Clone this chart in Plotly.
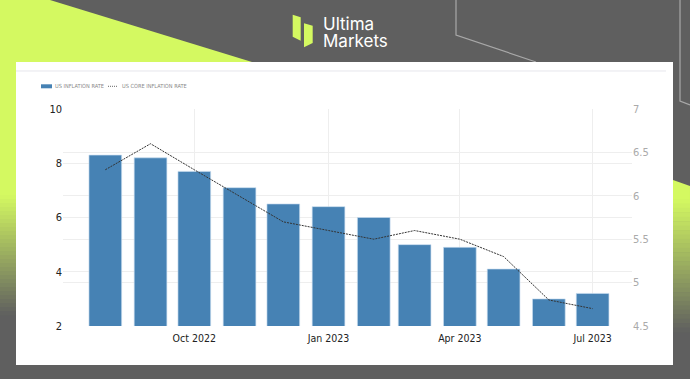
import plotly.graph_objects as go

# ---------------- data ----------------
months = ["2022-08-01", "2022-09-01", "2022-10-01", "2022-11-01", "2022-12-01", "2023-01-01",
          "2023-02-01", "2023-03-01", "2023-04-01", "2023-05-01", "2023-06-01", "2023-07-01"]
inflation = [8.3, 8.2, 7.7, 7.1, 6.5, 6.4, 6.0, 5.0, 4.9, 4.1, 3.0, 3.2]
core_inflation = [6.3, 6.6, 6.3, 6.0, 5.7, 5.6, 5.5, 5.6, 5.5, 5.3, 4.8, 4.7]
left_ticks = [2, 4, 6, 8, 10]
right_ticks = [4.5, 5, 5.5, 6, 6.5, 7]
x_tick_dates = ["2022-10-01", "2023-01-01", "2023-04-01", "2023-07-01"]
x_tick_labels = ["Oct 2022", "Jan 2023", "Apr 2023", "Jul 2023"]
series_names = ["US INFLATION RATE", "US CORE INFLATION RATE"]

# ---------------- geometry / style ----------------
W, H = 690, 379
L, R, T, B = 63, 632, 109, 326
GRAY = "#5f5f5f"
LIME = "#d4f961"
BLUE = "#4682b4"
DAY_MS = 86400000


def fx(x):
    return (x - L) / (R - L)


def fy(y):
    return (B - y) / (B - T)


def poly(pts):
    return "M " + " L ".join(f"{fx(x):.5f},{fy(y):.5f}" for x, y in pts) + " Z"


def mix(c1, c2, t):
    a = [int(c1[i:i + 2], 16) for i in (1, 3, 5)]
    b = [int(c2[i:i + 2], 16) for i in (1, 3, 5)]
    return "rgb(%d,%d,%d)" % tuple(round(a[k] + (b[k] - a[k]) * t) for k in range(3))


shapes = []


def add_poly(pts, color):
    shapes.append(dict(type="path", xref="paper", yref="paper", path=poly(pts),
                       fillcolor=color, line=dict(width=0), layer="below"))


def add_line(pts, color, width):
    path = "M " + " L ".join(f"{fx(x):.5f},{fy(y):.5f}" for x, y in pts)
    shapes.append(dict(type="path", xref="paper", yref="paper", path=path,
                       line=dict(color=color, width=width), layer="below"))


# top-left lime triangle + left strip
add_poly([(0, 0), (50, 0), (252, 62), (0, 62)], LIME)
add_poly([(0, 62), (16, 62), (16, 196), (0, 196)], LIME)
n = 30
y0, y1 = 195, 315
for i in range(n):
    ya = y0 + (y1 - y0) * i / n
    yb = y0 + (y1 - y0) * (i + 1) / n + 0.6
    add_poly([(0, ya), (16, ya), (16, yb), (0, yb)], mix(LIME, GRAY, (i + 0.5) / n))

# right strip
add_poly([(673, 180), (690, 186), (690, 200), (673, 200)], LIME)
y0, y1 = 199, 332
for i in range(n):
    ya = y0 + (y1 - y0) * i / n
    yb = y0 + (y1 - y0) * (i + 1) / n + 0.6
    add_poly([(673, ya), (690, ya), (690, yb), (673, yb)], mix(LIME, GRAY, (i + 0.5) / n))

# thin decorative lines
add_line([(456, 0), (456, 35), (536, 62)], "#a8a8a8", 1.2)
add_line([(680, 0), (680, 101), (690, 105)], "#a8a8a8", 1.2)

# white panel
add_poly([(16, 62), (673, 62), (673, 365), (16, 365)], "white")
# separator
add_line([(16, 71), (666, 71)], "#e6e6ec", 1)

# logo icon
add_poly([(292.7, 14.7), (300.7, 17.3), (300.7, 40.7), (292.7, 36.7)], LIME)
add_poly([(304, 23.3), (312.7, 25.7), (312.7, 43), (304, 47.3)], LIME)

# legend symbols
add_poly([(41, 84.3), (52, 84.3), (52, 88.3), (41, 88.3)], BLUE)
shapes.append(dict(type="line", xref="paper", yref="paper",
                   x0=fx(108), x1=fx(117), y0=fy(86.3), y1=fy(86.3),
                   line=dict(color="#666", width=1, dash="1px,1px"), layer="below"))

logo_font = dict(family="Inter, Roboto", size=17, color="white")
legend_font = dict(family="Liberation Sans Narrow, DejaVu Sans Condensed, sans-serif", size=5.6, color="#8a8a8a")
annotations = [
    dict(text="Ultima", x=fx(321), y=fy(24.3), xref="paper", yref="paper", xanchor="left",
         yanchor="middle", showarrow=False, font=logo_font),
    dict(text="Markets", x=fx(321), y=fy(40.7), xref="paper", yref="paper", xanchor="left",
         yanchor="middle", showarrow=False, font=logo_font),
    dict(text=series_names[0], x=fx(53), y=fy(86.3), xref="paper", yref="paper",
         xanchor="left", yanchor="middle", showarrow=False, font=legend_font),
    dict(text=series_names[1], x=fx(120), y=fy(86.3), xref="paper", yref="paper",
         xanchor="left", yanchor="middle", showarrow=False, font=legend_font),
]

bar_width_days = 22.4

fig = go.Figure()
fig.add_trace(go.Bar(
    x=months, y=inflation, name=series_names[0],
    width=[bar_width_days * DAY_MS] * len(months),
    marker=dict(color=BLUE, line=dict(color="rgba(200,220,240,0.8)", width=0.8)),
))
fig.add_trace(go.Scatter(
    x=months, y=core_inflation, name=series_names[1], yaxis="y2", mode="lines",
    line=dict(color="#333333", width=1, dash="2px,1px"),
))

tick_font = dict(family="DejaVu Sans Condensed, DejaVu Sans", size=11, color="#222222")

fig.update_layout(
    width=W, height=H, autosize=False,
    margin=dict(l=L, r=W - R, t=T, b=H - B, pad=0),
    paper_bgcolor=GRAY, plot_bgcolor="white",
    showlegend=False,
    shapes=shapes, annotations=annotations,
    xaxis=dict(
        type="date", range=["2022-07-03", "2023-07-28"],
        tickvals=x_tick_dates, ticktext=x_tick_labels,
        showgrid=True, gridcolor="#eeeeee", gridwidth=1,
        zeroline=False, showline=False,
        ticks="outside", ticklen=2, tickcolor="rgba(0,0,0,0)",
        tickfont=dict(family="DejaVu Sans Condensed, DejaVu Sans", size=10.5, color="#222222"),
    ),
    yaxis=dict(
        range=[2, 10], tickvals=left_ticks, showgrid=True, gridcolor="#eeeeee",
        zeroline=False, showline=False, ticks="", tickfont=tick_font,
    ),
    yaxis2=dict(
        range=[4.5, 7], tickvals=right_ticks, overlaying="y", side="right",
        showgrid=True, gridcolor="#eeeeee", zeroline=False, showline=False, ticks="",
        tickfont=dict(family="DejaVu Sans Condensed, DejaVu Sans", size=11, color="#aaaaaa"),
    ),
)

fig.write_html("out.html", config={"displayModeBar": False},
               post_script="document.body.style.margin='0px';document.body.style.overflow='hidden';")
